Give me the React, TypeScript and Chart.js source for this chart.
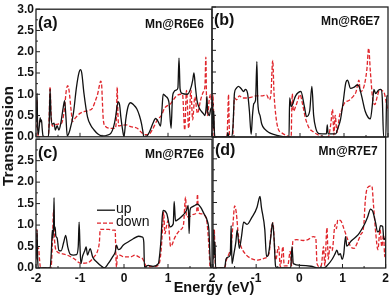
import React, { useEffect, useRef } from 'react';
import { Chart, registerables } from 'chart.js';

Chart.register(...registerables);

type Pt = [number, number];

// Energy range / tick values
const energyTicks = [-2, -1, 0, 1, 2];
const transTicks = [0, 0.5, 1, 1.5, 2, 2.5, 3];
const seriesLabels = ['up', 'down'];
const panelLetters = ['(a)', '(b)', '(c)', '(d)'];
const panelNames = ['Mn@R6E6', 'Mn@R6E7', 'Mn@R7E6', 'Mn@R7E7'];

// (a) Mn@R6E6
const aUp: Pt[] = [[-2.0,0.35],[-1.985,0.6],[-1.975,1.02],[-1.965,0.3],[-1.95,0.05],[-1.93,0.2],[-1.905,0.45],[-1.89,0.35],[-1.875,0.4],[-1.86,0.2],[-1.84,0.02],[-1.78,0.0],[-1.72,0.0],[-1.7,0.3],[-1.68,1.12],[-1.66,0.5],[-1.63,0.3],[-1.59,0.32],[-1.56,0.16],[-1.52,0.26],[-1.48,0.16],[-1.44,0.3],[-1.38,0.7],[-1.35,0.85],[-1.32,0.47],[-1.29,0.02],[-1.23,0.16],[-1.15,0.55],[-1.08,1.17],[-1.02,1.52],[-0.99,1.58],[-0.96,1.5],[-0.91,1.02],[-0.83,0.47],[-0.75,0.26],[-0.68,0.16],[-0.6,0.07],[-0.53,0.03],[-0.45,0.02],[-0.38,0.04],[-0.3,0.08],[-0.24,0.22],[-0.19,0.47],[-0.16,0.7],[-0.13,0.82],[-0.1,0.75],[-0.07,0.45],[-0.03,0.15],[0.0,0.0],[0.04,0.4],[0.09,0.7],[0.15,0.8],[0.22,0.75],[0.29,0.66],[0.35,0.5],[0.4,0.3],[0.43,0.12],[0.45,0.0],[0.5,0.0],[0.58,0.12],[0.65,0.3],[0.72,0.43],[0.78,0.35],[0.83,0.25],[0.86,0.6],[0.89,1.0],[0.95,0.95],[1.02,0.82],[1.07,0.2],[1.1,0.9],[1.13,1.05],[1.19,1.1],[1.225,1.15],[1.25,1.85],[1.275,1.12],[1.32,1.02],[1.44,1.0],[1.52,1.15],[1.56,1.32],[1.59,1.5],[1.62,1.2],[1.66,0.85],[1.71,0.68],[1.76,0.6],[1.8,0.55],[1.84,0.5],[1.87,0.72],[1.885,0.95],[1.9,0.6],[1.94,0.5],[1.97,0.65],[2.0,0.7]];
const aDown: Pt[] = [[-2.0,0.2],[-1.985,0.5],[-1.975,0.86],[-1.965,0.3],[-1.95,0.0],[-1.72,0.0],[-1.7,0.5],[-1.68,1.18],[-1.66,0.6],[-1.63,0.25],[-1.58,0.28],[-1.5,0.3],[-1.42,0.32],[-1.36,0.6],[-1.31,1.1],[-1.28,1.2],[-1.25,1.1],[-1.2,0.6],[-1.17,0.36],[-1.1,0.45],[-1.0,0.55],[-0.91,0.59],[-0.8,0.62],[-0.72,0.67],[-0.65,0.85],[-0.6,1.0],[-0.56,1.2],[-0.53,1.31],[-0.51,1.25],[-0.49,0.8],[-0.47,0.4],[-0.42,0.24],[-0.3,0.2],[-0.2,0.2],[-0.17,0.5],[-0.155,1.17],[-0.14,0.6],[-0.12,0.25],[-0.05,0.27],[0.05,0.28],[0.15,0.24],[0.3,0.2],[0.4,0.1],[0.49,0.05],[0.56,0.05],[0.64,0.16],[0.76,0.4],[0.85,0.5],[0.92,0.67],[1.06,0.78],[1.18,0.95],[1.29,1.0],[1.33,1.0],[1.38,0.16],[1.42,1.09],[1.47,0.2],[1.52,1.1],[1.56,0.4],[1.61,0.94],[1.67,0.55],[1.74,0.86],[1.8,1.05],[1.84,1.2],[1.86,1.87],[1.875,0.9],[1.9,0.5],[1.94,0.9],[1.97,1.0],[2.0,0.63]];

// (b) Mn@R6E7
const bUp: Pt[] = [[-2.0,0.3],[-1.985,0.86],[-1.975,0.2],[-1.96,0.6],[-1.945,0.1],[-1.93,0.0],[-1.66,0.0],[-1.64,0.1],[-1.62,0.02],[-1.55,0.0],[-1.52,0.3],[-1.49,1.01],[-1.45,1.12],[-1.4,1.17],[-1.34,1.12],[-1.28,1.05],[-1.24,1.1],[-1.19,1.0],[-1.15,0.6],[-1.11,0.06],[-1.08,0.5],[-1.05,0.77],[-1.01,0.85],[-0.98,1.74],[-0.96,0.8],[-0.91,0.5],[-0.87,0.3],[-0.8,0.18],[-0.7,0.1],[-0.6,0.06],[-0.45,0.02],[-0.3,0.0],[-0.25,0.0],[-0.235,0.9],[-0.2,0.7],[-0.1,0.95],[0.02,1.05],[0.1,0.7],[0.15,0.47],[0.22,0.6],[0.27,1.17],[0.31,0.5],[0.36,0.2],[0.43,0.08],[0.6,0.07],[0.62,0.28],[0.64,0.07],[0.81,0.07],[0.86,0.2],[0.92,0.4],[0.98,0.8],[1.04,1.25],[1.08,1.31],[1.15,1.12],[1.23,1.15],[1.3,1.2],[1.34,1.17],[1.4,0.95],[1.48,0.6],[1.55,0.45],[1.6,0.42],[1.65,0.8],[1.68,1.1],[1.72,1.0],[1.78,1.08],[1.84,1.1],[1.87,0.9],[1.9,0.0],[1.95,0.0],[1.97,0.95],[2.0,0.95]];
const bDown: Pt[] = [[-2.0,0.2],[-1.98,0.98],[-1.965,0.6],[-1.95,0.0],[-1.66,0.0],[-1.64,0.5],[-1.625,0.98],[-1.61,0.3],[-1.6,0.0],[-1.53,0.0],[-1.51,0.5],[-1.49,0.9],[-1.44,0.86],[-1.38,0.95],[-1.3,0.9],[-1.2,0.9],[-1.1,0.92],[-1.0,0.95],[-0.85,0.95],[-0.76,0.97],[-0.7,0.86],[-0.66,1.0],[-0.62,1.77],[-0.59,1.0],[-0.55,0.5],[-0.5,0.2],[-0.42,0.1],[-0.3,0.03],[-0.2,0.0],[-0.19,0.5],[-0.175,1.0],[-0.15,0.6],[-0.1,0.7],[-0.05,0.85],[0.0,0.98],[0.06,0.75],[0.12,0.45],[0.2,0.22],[0.3,0.12],[0.45,0.03],[0.64,0.0],[0.7,0.3],[0.74,0.64],[0.77,0.05],[0.8,0.5],[0.84,0.1],[0.9,0.5],[0.94,0.6],[1.01,0.78],[1.12,0.85],[1.22,0.95],[1.27,1.03],[1.34,1.31],[1.37,1.05],[1.44,1.12],[1.52,1.56],[1.56,2.05],[1.6,1.5],[1.65,0.9],[1.7,0.75],[1.76,0.95],[1.81,1.1],[1.87,1.07],[1.92,1.0],[1.96,0.8],[2.0,0.6]];

// (c) Mn@R7E6
const cUp: Pt[] = [[-2.0,0.2],[-1.985,0.5],[-1.975,0.88],[-1.965,0.3],[-1.95,0.0],[-1.68,0.0],[-1.65,0.4],[-1.63,0.88],[-1.615,0.7],[-1.6,1.0],[-1.59,1.64],[-1.58,0.9],[-1.565,0.95],[-1.55,0.75],[-1.52,0.7],[-1.48,0.41],[-1.43,0.4],[-1.37,0.6],[-1.325,0.76],[-1.28,0.5],[-1.22,0.32],[-1.15,0.3],[-1.08,0.31],[-1.04,0.5],[-1.02,1.07],[-1.0,0.5],[-0.98,0.1],[-0.94,0.28],[-0.89,0.41],[-0.86,0.49],[-0.83,0.3],[-0.77,0.45],[-0.71,0.25],[-0.62,0.14],[-0.51,0.04],[-0.45,0.0],[-0.36,0.1],[-0.26,0.26],[-0.2,0.37],[-0.17,0.53],[-0.13,0.43],[-0.08,0.45],[-0.02,0.53],[0.1,0.61],[0.21,0.68],[0.33,0.74],[0.42,0.72],[0.45,0.6],[0.465,0.02],[0.55,0.06],[0.66,0.04],[0.78,0.1],[0.82,0.4],[0.84,0.65],[0.87,1.2],[0.89,1.34],[0.97,1.27],[1.05,0.96],[1.12,1.03],[1.14,1.55],[1.17,1.1],[1.2,1.11],[1.31,1.2],[1.42,1.34],[1.46,1.46],[1.48,0.8],[1.5,1.35],[1.54,1.42],[1.6,1.45],[1.67,1.49],[1.74,1.42],[1.82,1.26],[1.89,1.11],[1.93,0.88],[1.97,0.0],[2.0,0.0]];
const cDown: Pt[] = [[-2.0,0.3],[-1.98,0.9],[-1.965,0.5],[-1.94,0.45],[-1.92,0.2],[-1.9,0.02],[-1.66,0.0],[-1.63,0.5],[-1.6,1.35],[-1.575,0.6],[-1.52,0.38],[-1.44,0.34],[-1.29,0.3],[-1.14,0.22],[-0.98,0.11],[-0.83,0.12],[-0.68,0.26],[-0.6,0.4],[-0.56,0.6],[-0.54,0.9],[-0.45,0.9],[-0.35,0.9],[-0.25,0.88],[-0.2,0.88],[-0.185,0.3],[-0.17,0.02],[-0.15,0.3],[-0.1,0.3],[0.0,0.26],[0.15,0.26],[0.25,0.3],[0.35,0.25],[0.42,0.22],[0.52,0.03],[0.7,0.03],[0.8,0.1],[0.85,0.5],[0.88,1.0],[0.9,1.3],[0.93,0.8],[0.97,1.0],[1.0,1.1],[1.06,0.5],[1.16,0.72],[1.27,0.88],[1.35,1.0],[1.4,1.65],[1.42,1.19],[1.5,1.2],[1.58,1.25],[1.65,1.3],[1.67,1.72],[1.69,1.3],[1.76,1.26],[1.84,1.22],[1.89,1.03],[1.93,0.5],[1.96,0.0],[2.0,0.0]];

// (d) Mn@R7E7
const dUp: Pt[] = [[-2.0,0.2],[-1.985,0.88],[-1.97,0.3],[-1.955,0.6],[-1.94,0.0],[-1.73,0.0],[-1.7,0.2],[-1.65,0.25],[-1.6,0.3],[-1.58,0.97],[-1.56,0.1],[-1.52,0.3],[-1.47,0.6],[-1.44,0.87],[-1.39,0.45],[-1.34,0.72],[-1.29,1.05],[-1.21,1.0],[-1.1,1.16],[-0.98,1.39],[-0.93,1.6],[-0.91,1.64],[-0.88,1.4],[-0.8,0.88],[-0.76,0.26],[-0.72,0.3],[-0.66,0.72],[-0.62,1.04],[-0.59,0.75],[-0.55,0.04],[-0.5,0.0],[-0.2,0.0],[-0.17,0.49],[-0.14,0.1],[0.03,0.06],[0.27,0.04],[0.45,0.0],[0.57,0.0],[0.64,0.05],[0.76,0.2],[0.83,0.33],[0.87,0.41],[0.91,0.3],[0.95,0.33],[0.99,0.2],[1.03,0.33],[1.07,0.72],[1.1,0.5],[1.2,0.62],[1.32,0.72],[1.39,0.8],[1.51,1.0],[1.58,1.16],[1.65,1.35],[1.7,1.3],[1.77,1.02],[1.81,0.83],[1.85,0.85],[1.88,0.97],[1.93,0.95],[1.96,0.65],[2.0,0.7]];
const dDown: Pt[] = [[-2.0,0.2],[-1.97,0.88],[-1.955,0.3],[-1.94,0.0],[-1.73,0.0],[-1.69,0.18],[-1.62,0.35],[-1.58,0.49],[-1.53,1.1],[-1.5,1.42],[-1.46,1.26],[-1.41,0.72],[-1.35,0.49],[-1.23,0.3],[-1.12,0.22],[-0.97,0.18],[-0.82,0.22],[-0.7,0.34],[-0.65,0.88],[-0.61,1.03],[-0.58,0.6],[-0.55,0.18],[-0.48,0.49],[-0.44,0.03],[-0.38,0.49],[-0.35,0.05],[-0.27,0.05],[-0.21,0.38],[-0.18,0.05],[-0.15,0.61],[-0.06,0.65],[0.09,0.63],[0.2,0.65],[0.32,0.72],[0.38,0.7],[0.41,0.1],[0.47,0.03],[0.51,0.06],[0.56,0.49],[0.59,0.05],[0.64,0.92],[0.67,0.2],[0.71,0.49],[0.76,0.4],[0.83,1.0],[0.86,0.9],[0.89,1.1],[0.96,1.08],[1.04,0.88],[1.11,0.68],[1.19,0.49],[1.27,0.45],[1.34,0.57],[1.42,0.76],[1.49,0.95],[1.53,1.57],[1.58,1.84],[1.68,1.88],[1.72,1.42],[1.77,0.8],[1.82,0.42],[1.87,0.88],[1.91,0.49],[1.95,0.76],[1.98,0.26],[2.0,0.4]];

const FONT = '"Liberation Sans", Arial, Helvetica, sans-serif';
const UP_COLOR = '#111111';
const DOWN_COLOR = '#e0262c';

type PanelCfg = {
  up: Pt[]; down: Pt[]; idx: number;
  left: number; top: number; width: number; height: number;
  yAxisW: number; padTop: number; padRight: number; xAxisH: number;
  showY: boolean; showX: boolean; hideY: number[]; hideX: number[]; legend: boolean;
};

const panels: PanelCfg[] = [
  { up: aUp, down: aDown, idx: 0, left: 0, top: 0, width: 220, height: 146, yAxisW: 36, padTop: 7, padRight: 8, xAxisH: 9, showY: true, showX: false, hideY: [], hideX: [], legend: false },
  { up: bUp, down: bDown, idx: 1, left: 210, top: 0, width: 182, height: 146, yAxisW: 2, padTop: 7, padRight: 4, xAxisH: 9, showY: false, showX: false, hideY: [], hideX: [], legend: false },
  { up: cUp, down: cDown, idx: 2, left: 0, top: 130, width: 220, height: 168, yAxisW: 36, padTop: 7, padRight: 8, xAxisH: 30, showY: true, showX: true, hideY: [3], hideX: [], legend: true },
  { up: dUp, down: dDown, idx: 3, left: 210, top: 130, width: 182, height: 168, yAxisW: 2, padTop: 7, padRight: 4, xAxisH: 30, showY: false, showX: true, hideY: [], hideX: [-2], legend: false },
];

const panelDeco = {
  id: 'panelDeco',
  afterDatasetsDraw(chart: any, _args: any, opts: any) {
    const { ctx, chartArea: a } = chart;
    const xs = chart.scales.x;
    const ys = chart.scales.y;
    ctx.save();
    ctx.strokeStyle = '#222';
    ctx.lineWidth = 1.3;
    ctx.setLineDash([]);
    ctx.strokeRect(a.left, a.top, a.right - a.left, a.bottom - a.top);
    ctx.lineWidth = 1;
    // inward ticks on left edge
    ys.ticks.forEach((t: any) => {
      const py = ys.getPixelForValue(t.value);
      ctx.beginPath(); ctx.moveTo(a.left, py); ctx.lineTo(a.left + 4, py); ctx.stroke();
      const pm = ys.getPixelForValue(t.value + 0.25);
      if (t.value + 0.25 < ys.max) { ctx.beginPath(); ctx.moveTo(a.left, pm); ctx.lineTo(a.left + 2, pm); ctx.stroke(); }
    });
    // inward ticks on bottom edge
    xs.ticks.forEach((t: any) => {
      const px = xs.getPixelForValue(t.value);
      ctx.beginPath(); ctx.moveTo(px, a.bottom); ctx.lineTo(px, a.bottom - 4); ctx.stroke();
      if (t.value + 0.5 < xs.max) {
        const pm = xs.getPixelForValue(t.value + 0.5);
        ctx.beginPath(); ctx.moveTo(pm, a.bottom); ctx.lineTo(pm, a.bottom - 2); ctx.stroke();
      }
    });
    // panel letter and name
    ctx.fillStyle = '#111';
    ctx.textBaseline = 'middle';
    ctx.textAlign = 'left';
    ctx.font = `bold 16px ${FONT}`;
    ctx.fillText(opts.letter, a.left + 2, a.top + 14);
    ctx.textAlign = 'right';
    ctx.font = `bold 12px ${FONT}`;
    ctx.fillText(opts.name, a.right - 8, a.top + 15);
    if (opts.legend) {
      const ds = chart.data.datasets;
      ds.forEach((d: any, i: number) => {
        const y = a.top + 71 + i * 13;
        ctx.strokeStyle = d.borderColor;
        ctx.lineWidth = 1.3;
        ctx.setLineDash(d.borderDash || []);
        ctx.beginPath(); ctx.moveTo(a.left + 61, y); ctx.lineTo(a.left + 79, y); ctx.stroke();
        ctx.setLineDash([]);
        ctx.fillStyle = '#111';
        ctx.textAlign = 'left';
        ctx.font = `14px ${FONT}`;
        ctx.fillText(d.label, a.left + 80, y - 1);
      });
    }
    ctx.restore();
  },
};

function Panel({ cfg }: { cfg: PanelCfg }) {
  const ref = useRef<HTMLCanvasElement | null>(null);
  useEffect(() => {
    if (!ref.current) return;
    const toXY = (arr: Pt[]) => arr.map(([x, y]) => ({ x, y }));
    const chart = new Chart(ref.current, {
      type: 'line',
      data: {
        datasets: [
          { label: seriesLabels[0], data: toXY(cfg.up), borderColor: UP_COLOR, borderWidth: 1.3, pointRadius: 0, cubicInterpolationMode: 'monotone', fill: false },
          { label: seriesLabels[1], data: toXY(cfg.down), borderColor: DOWN_COLOR, borderWidth: 1.3, borderDash: [4, 2], pointRadius: 0, cubicInterpolationMode: 'monotone', fill: false },
        ],
      } as any,
      options: {
        animation: false,
        responsive: false,
        maintainAspectRatio: false,
        devicePixelRatio: 1,
        layout: { autoPadding: false, padding: { top: cfg.padTop, right: cfg.padRight, left: 0, bottom: 0 } } as any,
        plugins: {
          legend: { display: false },
          tooltip: { enabled: false },
          panelDeco: { letter: panelLetters[cfg.idx], name: panelNames[cfg.idx], legend: cfg.legend },
        } as any,
        scales: {
          x: {
            type: 'linear',
            min: energyTicks[0],
            max: energyTicks[energyTicks.length - 1],
            afterBuildTicks: (s: any) => { s.ticks = energyTicks.map((v) => ({ value: v })); },
            afterFit: (s: any) => { s.height = cfg.xAxisH; },
            grid: { display: false, drawTicks: false },
            border: { display: false },
            ticks: {
              display: cfg.showX,
              padding: 3,
              color: '#111',
              font: { family: FONT, size: 12, weight: 'bold' },
              maxRotation: 0,
              autoSkip: false,
              callback: (v: any) => (cfg.hideX.includes(Number(v)) ? '' : String(v)),
            },
          },
          y: {
            type: 'linear',
            min: transTicks[0],
            max: transTicks[transTicks.length - 1],
            afterBuildTicks: (s: any) => { s.ticks = transTicks.map((v) => ({ value: v })); },
            afterFit: (s: any) => { s.width = cfg.yAxisW; },
            grid: { display: false, drawTicks: false },
            border: { display: false },
            ticks: {
              display: cfg.showY,
              padding: 2,
              color: '#111',
              font: { family: FONT, size: 12, weight: 'bold' },
              autoSkip: false,
              callback: (v: any) => (cfg.hideY.includes(Number(v)) ? '' : Number(v).toFixed(1)),
            },
          },
        },
      } as any,
      plugins: [panelDeco as any],
    });
    return () => chart.destroy();
  }, [cfg]);
  return (
    <canvas
      ref={ref}
      width={cfg.width}
      height={cfg.height}
      style={{ position: 'absolute', left: cfg.left, top: cfg.top, width: cfg.width, height: cfg.height }}
    />
  );
}

export default function App() {
  return (
    <div style={{ position: 'relative', width: 392, height: 298, background: '#fff', overflow: 'hidden' }}>
      <style>{'body{margin:0;}'}</style>
      {panels.map((p) => (
        <Panel key={p.idx} cfg={p} />
      ))}
      <div
        style={{
          position: 'absolute', left: 8, top: 136, transform: 'translate(-50%, -50%) rotate(-90deg)',
          font: `bold 15.5px ${FONT}`, color: '#111', whiteSpace: 'nowrap',
        }}
      >
        Transmission
      </div>
      <div
        style={{
          position: 'absolute', left: 214, top: 287, transform: 'translate(-50%, -50%)',
          font: `bold 14.5px ${FONT}`, color: '#111', whiteSpace: 'nowrap',
        }}
      >
        Energy (eV)
      </div>
    </div>
  );
}
